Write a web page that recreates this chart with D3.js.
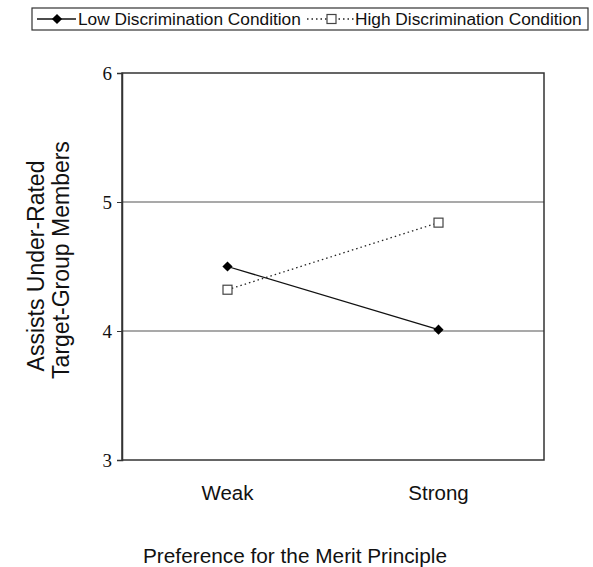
<!DOCTYPE html>
<html>
<head>
<meta charset="utf-8">
<script src="https://cdn.jsdelivr.net/npm/d3@7"></script>
<style>
  body { margin: 0; background: #fff; }
  svg { display: block; }
</style>
</head>
<body>
<div id="vis"></div>
<script>
// data
const categories = ["Weak", "Strong"];
const lowValues = [4.50, 4.01];
const highValues = [4.32, 4.84];
const yTicks = [3, 4, 5, 6];
const seriesNames = ["Low Discrimination Condition", "High Discrimination Condition"];

const width = 593, height = 567;
const margin = {top: 73, right: 49, bottom: 107, left: 122};
const sans = "Liberation Sans, Arial, sans-serif";

const svg = d3.select("#vis").append("svg")
    .attr("width", width)
    .attr("height", height);

const x = d3.scalePoint()
    .domain(categories)
    .range([margin.left, width - margin.right])
    .padding(0.5);

const y = d3.scaleLinear()
    .domain([3, 6])
    .range([height - margin.bottom, margin.top]);

// gridlines
svg.append("g")
  .selectAll("line")
  .data(yTicks.filter(d => d > 3 && d < 6))
  .join("line")
    .attr("x1", margin.left)
    .attr("x2", width - margin.right)
    .attr("y1", d => y(d))
    .attr("y2", d => y(d))
    .attr("stroke", "#555")
    .attr("stroke-width", 1.2);

// plot frame
svg.append("rect")
    .attr("x", margin.left)
    .attr("y", margin.top)
    .attr("width", width - margin.left - margin.right)
    .attr("height", height - margin.top - margin.bottom)
    .attr("fill", "none")
    .attr("stroke", "#333")
    .attr("stroke-width", 1.5);

// y axis
const yAxis = svg.append("g")
    .attr("transform", `translate(${margin.left},0)`)
    .call(d3.axisLeft(y).tickValues(yTicks).tickFormat(d3.format("d")).tickSize(5).tickPadding(5));
yAxis.select(".domain").attr("stroke", "#333").attr("stroke-width", 1.5);
yAxis.selectAll(".tick line").attr("stroke", "#333");
yAxis.selectAll("text")
    .attr("font-family", "Liberation Serif, serif")
    .attr("font-size", 19)
    .attr("fill", "#111");

// x labels
svg.append("g")
  .selectAll("text")
  .data(categories)
  .join("text")
    .attr("x", d => x(d))
    .attr("y", 500)
    .attr("text-anchor", "middle")
    .attr("font-family", sans)
    .attr("font-size", 20.5)
    .attr("fill", "#111")
    .text(d => d);

// axis titles
svg.append("text")
    .attr("x", 295)
    .attr("y", 563)
    .attr("text-anchor", "middle")
    .attr("font-family", sans)
    .attr("font-size", 20.8)
    .attr("fill", "#111")
    .text("Preference for the Merit Principle");

const yTitle = svg.append("text")
    .attr("transform", "rotate(-90)")
    .attr("text-anchor", "middle")
    .attr("font-family", sans)
    .attr("font-size", 23)
    .attr("fill", "#111");
yTitle.append("tspan").attr("x", -266).attr("y", 44).text("Assists Under-Rated");
yTitle.append("tspan").attr("x", -260).attr("y", 69).text("Target-Group Members");

// lines
const line = d3.line()
    .x((d, i) => x(categories[i]))
    .y(d => y(d));

svg.append("path")
    .datum(lowValues)
    .attr("d", line)
    .attr("fill", "none")
    .attr("stroke", "#111")
    .attr("stroke-width", 1.3);

svg.append("path")
    .datum(highValues)
    .attr("d", line)
    .attr("fill", "none")
    .attr("stroke", "#222")
    .attr("stroke-width", 1.3)
    .attr("stroke-dasharray", "1.5,3");

// filled diamond = square turned 45 degrees
const diamond = d3.symbol().type(d3.symbolSquare).size(52);

svg.append("g")
  .selectAll("path")
  .data(lowValues)
  .join("path")
    .attr("d", diamond)
    .attr("transform", (d, i) => `translate(${x(categories[i])},${y(d)}) rotate(45)`)
    .attr("fill", "#000");

svg.append("g")
  .selectAll("rect")
  .data(highValues)
  .join("rect")
    .attr("x", (d, i) => x(categories[i]) - 4.5)
    .attr("y", d => y(d) - 4.5)
    .attr("width", 9)
    .attr("height", 9)
    .attr("fill", "#fff")
    .attr("stroke", "#444")
    .attr("stroke-width", 1.2);

// legend
const legend = svg.append("g");
legend.append("rect")
    .attr("x", 32).attr("y", 8)
    .attr("width", 556).attr("height", 22)
    .attr("fill", "#fff")
    .attr("stroke", "#333")
    .attr("stroke-width", 1.2);

legend.append("line")
    .attr("x1", 37).attr("x2", 76).attr("y1", 19).attr("y2", 19)
    .attr("stroke", "#111").attr("stroke-width", 1.3);
legend.append("path")
    .attr("d", diamond)
    .attr("transform", "translate(57,19) rotate(45)")
    .attr("fill", "#000");
legend.append("text")
    .attr("x", 78).attr("y", 25)
    .attr("font-family", sans)
    .attr("font-size", 17.3)
    .attr("fill", "#111")
    .text(seriesNames[0]);

legend.append("line")
    .attr("x1", 307).attr("x2", 354).attr("y1", 19).attr("y2", 19)
    .attr("stroke", "#222").attr("stroke-width", 1.3)
    .attr("stroke-dasharray", "1.5,3");
legend.append("rect")
    .attr("x", 327).attr("y", 14.5).attr("width", 9).attr("height", 9)
    .attr("fill", "#fff").attr("stroke", "#444").attr("stroke-width", 1.2);
legend.append("text")
    .attr("x", 355).attr("y", 25)
    .attr("font-family", sans)
    .attr("font-size", 17.3)
    .attr("fill", "#111")
    .text(seriesNames[1]);
</script>
</body>
</html>
